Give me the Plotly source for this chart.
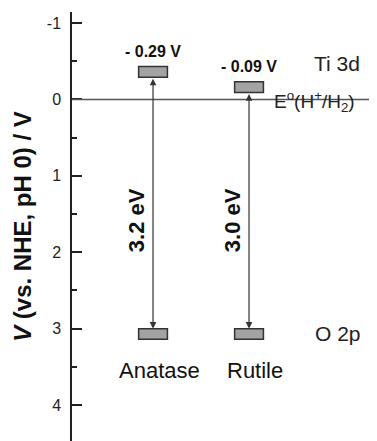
import plotly.graph_objects as go

# ---- data ----
materials = ["Anatase", "Rutile"]
material_x = [1, 2]
cb_levels = [-0.29, -0.09]      # conduction band edge (V vs NHE)
vb_levels = [3.0, 3.0]          # valence band edge (V vs NHE)
cb_labels = ["- 0.29 V", "- 0.09 V"]
gap_labels = ["3.2 eV", "3.0 eV"]
y_ticks = [-1, 0, 1, 2, 3, 4]
h2_level = 0.0

FONT = "Arial, Liberation Sans, sans-serif"
DARK = "#333333"
BOX_FILL = "#a3a3a3"
BOX_H = 0.14
BOX_W = 0.3
GAP_LABEL_Y = 1.58

fig = go.Figure()
# invisible trace to set up axes
fig.add_trace(go.Scatter(x=material_x, y=cb_levels, mode="markers",
                         marker=dict(opacity=0), hoverinfo="skip", showlegend=False))

shapes = []
annotations = []
for xm, cb, vb, cbl, gl, name in zip(material_x, cb_levels, vb_levels, cb_labels, gap_labels, materials):
    shapes.append(dict(type="rect", xref="x", yref="y", x0=xm - BOX_W / 2, x1=xm + BOX_W / 2,
                       y0=cb, y1=cb - BOX_H, fillcolor=BOX_FILL, line=dict(color=DARK, width=1.5)))
    shapes.append(dict(type="rect", xref="x", yref="y", x0=xm - BOX_W / 2, x1=xm + BOX_W / 2,
                       y0=vb, y1=vb + BOX_H, fillcolor=BOX_FILL, line=dict(color=DARK, width=1.5)))
    annotations.append(dict(x=xm, y=vb, ax=xm, ay=cb, xref="x", yref="y", axref="x", ayref="y",
                            text="", showarrow=True, arrowhead=2, startarrowhead=2,
                            arrowside="end+start", arrowsize=1.1, startarrowsize=1.1,
                            arrowwidth=1.2, arrowcolor=DARK, standoff=0, startstandoff=0))
    annotations.append(dict(x=xm, y=cb, xref="x", yref="y", text="<b>%s</b>" % cbl, showarrow=False,
                            yshift=26, font=dict(family=FONT, size=16, color="#111")))
    annotations.append(dict(x=xm, y=GAP_LABEL_Y, xref="x", yref="y", text="<b>%s</b>" % gl,
                            showarrow=False, textangle=-90, xshift=-17,
                            font=dict(family=FONT, size=22, color="#111")))
    annotations.append(dict(x=xm, y=vb, xref="x", yref="y", text=name, showarrow=False,
                            yshift=-42, xshift=6, font=dict(family=FONT, size=22, color="#111")))

shapes.append(dict(type="line", xref="paper", yref="y", x0=0, x1=1, y0=h2_level, y1=h2_level,
                   line=dict(color="#555555", width=1.5)))

annotations.append(dict(x=2.92, y=-0.47, xref="x", yref="y", text="Ti 3d", showarrow=False,
                        font=dict(family=FONT, size=21, color="#222")))
annotations.append(dict(x=2.93, y=3.06, xref="x", yref="y", text="O 2p", showarrow=False,
                        font=dict(family=FONT, size=21, color="#222")))
annotations.append(dict(x=2.68, y=h2_level, xref="x", yref="y",
                        text="E<sup>o</sup>(H<sup>+</sup>/H<sub>2</sub>)", showarrow=False,
                        yshift=-2, font=dict(family=FONT, size=19, color="#222")))

# The page body has an 8px default margin, so the figure is sized to fit the window.
fig.update_layout(
    width=369, height=433,
    margin=dict(l=64, r=0, t=4, b=0, autoexpand=False),
    paper_bgcolor="white", plot_bgcolor="white",
    showlegend=False,
    shapes=shapes, annotations=annotations,
    xaxis=dict(range=[0.156, 3.333], visible=False, automargin=False),
    yaxis=dict(
        range=[4.47, -1.144], tickmode="array", tickvals=y_ticks,
        ticktext=[str(t) for t in y_ticks], automargin=False,
        ticks="inside", ticklen=10, tickwidth=1.5, tickcolor="#222",
        minor=dict(dtick=0.5, ticks="inside", ticklen=5, tickwidth=1.5, tickcolor="#222"),
        showline=True, linecolor="#222", linewidth=1.5, showgrid=False, zeroline=False,
        tickfont=dict(family=FONT, size=16, color="#222"),
        ticklabelstandoff=6,
        title=dict(text="<b><i>V</i> (vs. NHE, pH 0) / V</b>",
                   font=dict(family=FONT, size=24, color="#111"), standoff=8),
    ),
)

fig.write_html("out.html")
